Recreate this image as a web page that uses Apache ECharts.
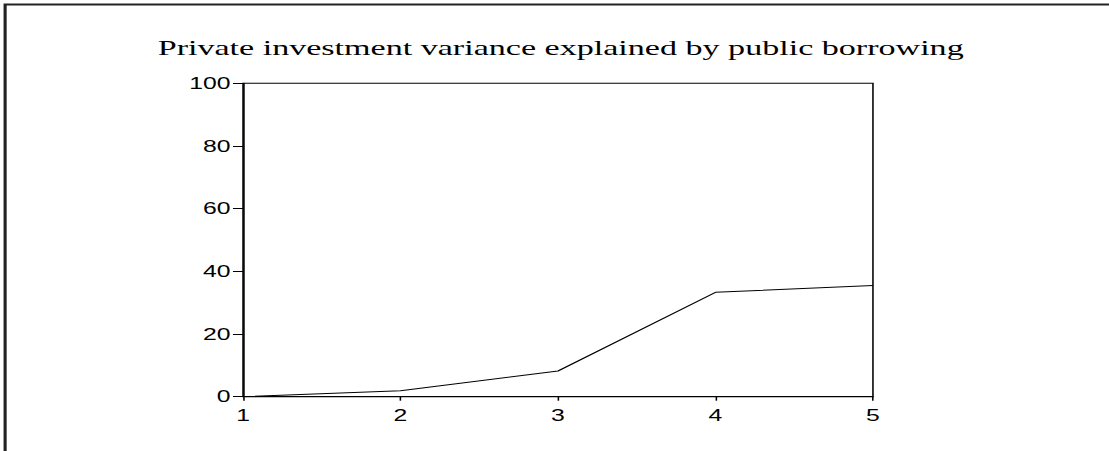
<!DOCTYPE html>
<html>
<head>
<meta charset="utf-8">
<title>Private investment variance</title>
<script src="https://cdn.jsdelivr.net/npm/echarts@6/dist/echarts.min.js"></script>
<style>
  html, body { margin: 0; padding: 0; background: #fff; overflow: hidden; }
  /* the reference is stretched sideways, so draw narrow and widen */
  #chart {
    position: absolute; left: 0; top: 0;
    width: 716px; height: 451px;
    transform: scaleX(1.5489);
    transform-origin: 0 0;
  }
</style>
</head>
<body>
<div id="chart"></div>
<script>
// periods and share of variance (%)
var periods = [1, 2, 3, 4, 5];
var variance = [0, 1.9, 8.2, 33.3, 35.5];
var yTicks = [0, 20, 40, 60, 80, 100];

var chart = echarts.init(document.getElementById('chart'), null, {renderer: 'svg'});

var option = {
  animation: false,
  title: {
    text: 'Private investment variance explained by public borrowing',
    left: 357,
    top: 31,
    textAlign: 'center',
    textStyle: {
      fontFamily: 'Liberation Serif',
      fontWeight: 'normal',
      fontSize: 22,
      color: '#000'
    }
  },
  grid: {
    left: 156.9,
    right: 152.4,
    top: 83.3,
    bottom: 54.3,
    show: true,
    borderColor: '#000',
    borderWidth: 1,
    backgroundColor: '#fff'
  },
  xAxis: {
    type: 'value',
    min: periods[0],
    max: periods[periods.length - 1],
    interval: 1,
    splitLine: {show: false},
    axisLine: {show: true, lineStyle: {color: '#000', width: 1}},
    axisTick: {show: true, length: 4, lineStyle: {color: '#000'}},
    axisLabel: {
      margin: 11,
      fontFamily: 'Liberation Sans',
      fontSize: 16,
      color: '#000'
    }
  },
  yAxis: {
    type: 'value',
    min: yTicks[0],
    max: yTicks[yTicks.length - 1],
    interval: 20,
    splitLine: {show: false},
    axisLine: {show: true, lineStyle: {color: '#000', width: 1}},
    axisTick: {show: true, length: 6.5, lineStyle: {color: '#000'}},
    axisLabel: {
      margin: 8,
      fontFamily: 'Liberation Sans',
      fontSize: 16,
      color: '#000'
    }
  },
  graphic: [
    {
      // frame round the picture, only top and left edges are visible
      type: 'rect',
      shape: {x: 3.3, y: 4.5, width: 900, height: 600},
      style: {fill: 'none', stroke: '#222', lineWidth: 2}
    }
  ],
  series: [
    {
      type: 'line',
      data: periods.map(function (p, i) { return [p, variance[i]]; }),
      showSymbol: false,
      lineStyle: {color: '#000', width: 1}
    }
  ]
};

chart.setOption(option);
</script>
</body>
</html>
